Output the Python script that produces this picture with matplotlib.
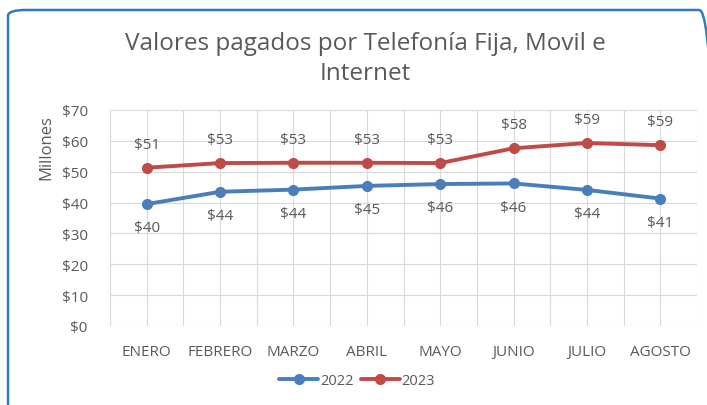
import matplotlib
matplotlib.use("Agg")
import matplotlib.pyplot as plt
from matplotlib.patches import FancyBboxPatch
import numpy as np

months = ["ENERO", "FEBRERO", "MARZO", "ABRIL", "MAYO", "JUNIO", "JULIO", "AGOSTO"]
v2022 = [39.5, 43.5, 44.2, 45.4, 46.0, 46.2, 44.1, 41.3]
v2023 = [51.3, 52.8, 52.9, 52.9, 52.8, 57.6, 59.3, 58.6]
yticks = [0, 10, 20, 30, 40, 50, 60, 70]

plt.rcParams['font.family'] = ['Open Sans', 'DejaVu Sans']
txt = "#595959"
blue = "#4A7EBB"
red = "#BE4B48"

fig = plt.figure(figsize=(7.07, 4.06), dpi=100)
W, H = 707, 406
ax = fig.add_axes([110 / W, 1 - 327 / H, 587 / W, 216 / H])

x = np.arange(len(months))
ax.plot(x, v2022, color=blue, lw=2.8, marker="o", ms=7, label="2022", solid_capstyle="round", zorder=3)
ax.plot(x, v2023, color=red, lw=2.8, marker="o", ms=7, label="2023", solid_capstyle="round", zorder=3)

for xi, v in zip(x, v2022):
    ax.annotate(f"${v:.0f}", (xi, v), xytext=(0, -17), textcoords="offset points",
                ha="center", va="center", fontsize=11, color=txt)
for xi, v in zip(x, v2023):
    ax.annotate(f"${v:.0f}", (xi, v), xytext=(0, 17), textcoords="offset points",
                ha="center", va="center", fontsize=11, color=txt)

ax.set_xlim(-0.5, len(months) - 0.5)
ax.set_ylim(0, 70)
ax.set_yticks(yticks)
ax.set_yticklabels([f"${t}" for t in yticks])
ax.set_xticks(x)
ax.set_xticklabels(months)
ax.set_xticks(np.arange(-0.5, len(months)), minor=True)
ax.grid(True, which="both", color="#D9D9D9", lw=0.8)
ax.set_axisbelow(True)
for s in ax.spines.values():
    s.set_visible(False)
ax.tick_params(which="both", length=0)
ax.tick_params(axis="x", pad=13, labelsize=11, labelcolor=txt)
ax.tick_params(axis="y", pad=16, labelsize=11, labelcolor=txt)

fig.text(46 / W, 1 - 148 / H, "Millones", rotation=90, ha="center", va="center",
         fontsize=12, color=txt)

fig.text(365 / W, 1 - 59 / H, "Valores pagados por Telefonía Fija, Movil e\nInternet",
         ha="center", va="center", fontsize=17.5, color=txt, linespacing=1.3)

leg = fig.legend(loc="center", bbox_to_anchor=(357 / W, 1 - 382 / H), ncol=2, frameon=False,
                 fontsize=10.5, labelcolor=txt, handlelength=2.7, handletextpad=0.1,
                 columnspacing=0.5)

border = FancyBboxPatch((8 / W, -0.1), (707 + 2) / W, (406 - 11) / H + 0.1,
                        boxstyle="round,pad=0,rounding_size=0.025", transform=fig.transFigure,
                        fill=False, edgecolor="#2E7DC4", lw=1.8, mutation_aspect=H / W)
fig.patches.append(border)

fig.savefig("out.png", dpi=100)
